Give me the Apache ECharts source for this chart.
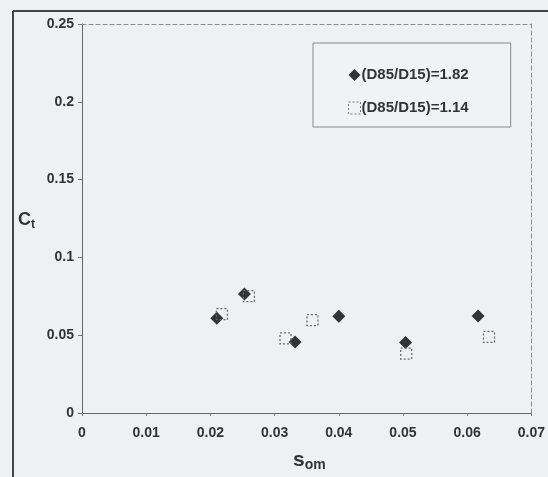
<!DOCTYPE html>
<html>
<head>
<meta charset="utf-8">
<script src="https://cdn.jsdelivr.net/npm/echarts@6/dist/echarts.min.js"></script>
<style>
  html, body { margin: 0; padding: 0; background: #eef0f2; overflow: hidden; }
  #chart { width: 548px; height: 477px; }
</style>
</head>
<body>
<div id="chart"></div>
<script>
// Sediment transport coefficient Ct against s_om for two gradations
const seriesNames = ['(D85/D15)=1.82', '(D85/D15)=1.14'];
// [s_om, Ct] pairs
const graded182 = [
  [0.0210, 0.0609],
  [0.0253, 0.0764],
  [0.0332, 0.0457],
  [0.0400, 0.0622],
  [0.0504, 0.0453],
  [0.0617, 0.0624]
];
const graded114 = [
  [0.0218, 0.0635],
  [0.0260, 0.0751],
  [0.0317, 0.0479],
  [0.0359, 0.0597],
  [0.0505, 0.0382],
  [0.0634, 0.0489]
];
const xTicks = { min: 0, max: 0.07, step: 0.01 };
const yTicks = { min: 0, max: 0.25, step: 0.05 };

const chart = echarts.init(document.getElementById('chart'), null, { renderer: 'canvas', width: 548, height: 477 });

const FONT = 'Liberation Sans, Arial, sans-serif';
const labelFont = { fontFamily: FONT, fontWeight: 'bold', fontSize: 14, color: '#333' };

// dashed frame lines along the top and right of the plot area
const frameAxis = {
  type: 'value',
  axisLine: { show: true, onZero: false, lineStyle: { color: '#8c8c8c', type: [4, 3], width: 1 } },
  axisTick: { show: false }, axisLabel: { show: false }, splitLine: { show: false }
};

const option = {
  backgroundColor: '#eef0f2',
  animation: false,
  grid: { left: 82, top: 24, width: 451, height: 389 },
  legend: {
    orient: 'vertical',
    left: 313,
    top: 43,
    padding: [24, 42, 11, 35],
    itemGap: 17,
    itemWidth: 12,
    itemHeight: 12,
    borderColor: '#8a8a8a',
    borderWidth: 1,
    backgroundColor: '#f1f2f4',
    textStyle: { fontFamily: FONT, fontWeight: 'bold', fontSize: 15, color: '#333', lineHeight: 16, padding: [0, 0, 0, -4] },
    data: [
      { name: seriesNames[0], icon: 'diamond', itemStyle: { color: '#333' } },
      { name: seriesNames[1], icon: 'rect', itemStyle: { color: 'rgba(0,0,0,0)', borderColor: '#777', borderWidth: 1, borderType: [2, 2] } }
    ]
  },
  xAxis: [{
    type: 'value',
    min: xTicks.min, max: xTicks.max, interval: xTicks.step,
    axisLine: { show: true, lineStyle: { color: '#666', width: 1 } },
    axisTick: { show: true, length: 3, lineStyle: { color: '#777' } },
    splitLine: { show: false },
    axisLabel: Object.assign({}, labelFont, { margin: 13, showMaxLabel: true })
  }, Object.assign({}, frameAxis, { position: 'top', min: xTicks.min, max: xTicks.max, interval: xTicks.step })],
  yAxis: [{
    type: 'value',
    min: yTicks.min, max: yTicks.max, interval: yTicks.step,
    axisLine: { show: true, lineStyle: { color: '#666', width: 1 } },
    axisTick: { show: true, length: 4, lineStyle: { color: '#777' } },
    splitLine: { show: false },
    axisLabel: Object.assign({}, labelFont, { margin: 8 })
  }, Object.assign({}, frameAxis, { position: 'right', min: yTicks.min, max: yTicks.max, interval: yTicks.step })],
  series: [{
    name: seriesNames[0],
    type: 'scatter',
    symbol: 'diamond',
    symbolSize: 13,
    itemStyle: { color: '#333', opacity: 1 },
    data: graded182,
    z: 2
  }, {
    name: seriesNames[1],
    type: 'scatter',
    symbol: 'rect',
    symbolSize: 11,
    itemStyle: { color: 'rgba(0,0,0,0)', borderColor: '#6a6a6a', borderWidth: 1.3, borderType: [2, 2], opacity: 1 },
    data: graded114,
    z: 3
  }],
  graphic: [
    // outer chart-area frame (left and top edges)
    { type: 'line', shape: { x1: 13, y1: 11, x2: 13, y2: 477 }, style: { stroke: '#444', lineWidth: 2 } },
    { type: 'line', shape: { x1: 13, y1: 11, x2: 548, y2: 11 }, style: { stroke: '#444', lineWidth: 2 } },
    // axis titles
    {
      type: 'text', left: 18, top: 211,
      style: {
        text: '{c|C}{sub|t}',
        rich: {
          c: { fontFamily: FONT, fontWeight: 'bold', fontSize: 18, fill: '#333' },
          sub: { fontFamily: FONT, fontWeight: 'bold', fontSize: 12, fill: '#333', padding: [9, 0, 0, 0] }
        }
      }
    },
    {
      type: 'text', left: 293, top: 450,
      style: {
        text: '{s|s}{sub|om}',
        rich: {
          s: { fontFamily: FONT, fontWeight: 'bold', fontSize: 21, fill: '#333' },
          sub: { fontFamily: FONT, fontWeight: 'bold', fontSize: 14, fill: '#333', padding: [10, 0, 0, 0] }
        }
      }
    }
  ]
};

chart.setOption(option);
</script>
</body>
</html>
